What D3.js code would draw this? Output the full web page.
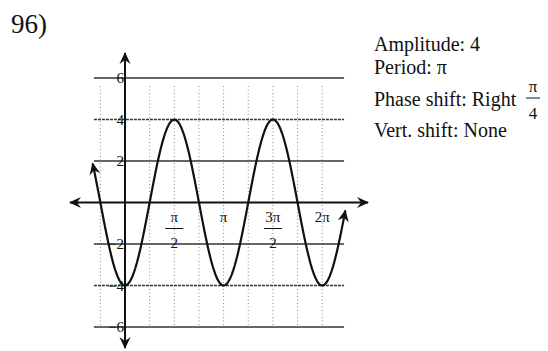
<!DOCTYPE html>
<html><head><meta charset="utf-8">
<script src="https://cdn.jsdelivr.net/npm/d3@7"></script>
<style>body{margin:0;background:#fff;} svg{display:block;} text{font-family:"Liberation Serif","Times New Roman",serif;fill:#111;}</style>
</head><body><svg id="c" width="548" height="351"></svg>
<script>
const title = "96)";
const infoLines = ["Amplitude: 4", "Period: π", "Phase shift: Right", "Vert. shift: None"];
const yTicks = [6, 4, 2, -2, -4, -6];
const yTickLabels = ["6", "4", "2", "\u22122", "\u22124", "\u22126"];
const xTicks = [Math.PI/2, Math.PI, 3*Math.PI/2, 2*Math.PI];
const xTickNum = ["π", "π", "3π", "2π"];
const xTickDen = ["2", "", "2", ""];
const vGrid = [-1,1,2,3,4,5,6,7,8].map(k => k*Math.PI/4);
const amplitude = 4, period = Math.PI, phase = Math.PI/4;
const curveStart = -1.03, curveEnd = 7.02;
const curveX = d3.range(0, 161).map(i => curveStart + (curveEnd - curveStart) * i / 160);

const svg = d3.select("#c");
const x = d3.scaleLinear().domain([0, Math.PI/2]).range([125, 174.3]);
const y = d3.scaleLinear().domain([0, 6]).range([202.5, 78]);

const defs = svg.append("defs");
defs.append("marker").attr("id","arr").attr("viewBox","-12 -6 14 12").attr("refX",0).attr("refY",0)
  .attr("markerWidth",14).attr("markerHeight",12).attr("markerUnits","userSpaceOnUse").attr("orient","auto-start-reverse")
  .append("path").attr("d","M1,0 L-11,-5.5 L-7,0 L-11,5.5 Z").attr("fill","#111");

// vertical dotted grid
svg.append("g").selectAll("line").data(vGrid).join("line")
  .attr("x1", d => x(d)).attr("x2", d => x(d)).attr("y1", y(6)+8).attr("y2", y(-6)-2)
  .attr("stroke","#888").attr("stroke-width",1).attr("stroke-dasharray","1,2.5");

// horizontal grid
svg.append("g").selectAll("line").data(yTicks).join("line")
  .attr("x1", x(-0.99)).attr("x2", x(6.98)).attr("y1", d => y(d)).attr("y2", d => y(d))
  .attr("stroke","#333").attr("stroke-width",1.3)
  .attr("stroke-dasharray", d => Math.abs(d) === 4 ? "3,1" : null);

// axes
svg.append("line").attr("x1", 70).attr("x2", 368).attr("y1", y(0)).attr("y2", y(0))
  .attr("stroke","#111").attr("stroke-width",2).attr("marker-start","url(#arr)").attr("marker-end","url(#arr)");
svg.append("line").attr("x1", x(0)).attr("x2", x(0)).attr("y1", 53).attr("y2", 348)
  .attr("stroke","#111").attr("stroke-width",2).attr("marker-start","url(#arr)").attr("marker-end","url(#arr)");

// curve
const line = d3.line().x(d => x(d)).y(d => y(amplitude * Math.sin(2*Math.PI/period * (d - phase)))).curve(d3.curveLinear);
svg.append("path").datum(curveX).attr("d", line).attr("fill","none").attr("stroke","#111").attr("stroke-width",2.2)
  .attr("marker-start","url(#arr)").attr("marker-end","url(#arr)");

// y tick labels
svg.append("g").selectAll("text").data(yTicks).join("text")
  .attr("x", x(0) - 1).attr("y", d => y(d) + 5).attr("text-anchor","end").attr("font-size",15)
  .text((d,i) => yTickLabels[i]);

// x tick labels
const xl = svg.append("g").selectAll("g").data(xTicks).join("g").attr("transform", d => `translate(${x(d)},0)`);
xl.append("text").attr("y", 222).attr("text-anchor","middle").attr("font-size",15).text((d,i) => xTickNum[i]);
xl.filter((d,i) => xTickDen[i] !== "").append("line").attr("x1",-9).attr("x2",9).attr("y1",228.5).attr("y2",228.5).attr("stroke","#111").attr("stroke-width",1);
xl.filter((d,i) => xTickDen[i] !== "").append("text").attr("y", 248).attr("text-anchor","middle").attr("font-size",15).text((d,i) => xTickDen[xTicks.indexOf(d)]);

// title
svg.append("text").attr("x", 11).attr("y", 33).attr("font-size", 27).text(title);

// info text
const infoY = [51, 74, 106, 137];
svg.append("g").selectAll("text").data(infoLines).join("text")
  .attr("x", 374).attr("y", (d,i) => infoY[i]).attr("font-size", 20).text(d => d);
// π/4 fraction
const fx = 533;
svg.append("text").attr("x", fx).attr("y", 92).attr("text-anchor","middle").attr("font-size",17).text("π");
svg.append("line").attr("x1", fx-7).attr("x2", fx+7).attr("y1", 98).attr("y2", 98).attr("stroke","#111").attr("stroke-width",1);
svg.append("text").attr("x", fx).attr("y", 119).attr("text-anchor","middle").attr("font-size",17).text("4");
</script></body></html>
